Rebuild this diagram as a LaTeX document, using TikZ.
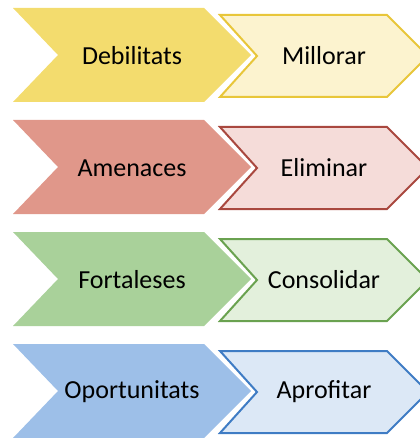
\documentclass[tikz,border=0pt]{standalone}
\usepackage{fontspec}
\setmainfont{Carlito}
\definecolor{grocA}{RGB}{243,220,110}
\definecolor{grocB}{RGB}{252,243,207}
\definecolor{grocL}{RGB}{232,198,58}
\definecolor{vermA}{RGB}{224,151,138}
\definecolor{vermB}{RGB}{245,220,217}
\definecolor{vermL}{RGB}{169,72,63}
\definecolor{verdA}{RGB}{169,209,154}
\definecolor{verdB}{RGB}{227,240,220}
\definecolor{verdL}{RGB}{106,162,80}
\definecolor{blauA}{RGB}{157,191,232}
\definecolor{blauB}{RGB}{220,232,246}
\definecolor{blauL}{RGB}{63,124,196}
\tikzset{every picture/.style={line width=0.75pt}}
\begin{document}
\begin{tikzpicture}[x=0.75pt,y=0.75pt,yscale=-1,xscale=1,
  fletxa/.style={draw=none},
  accio/.style={line width=1.5pt,line join=miter},
  txt/.style={inner sep=0.75pt,font=\fontsize{19.5}{23}\selectfont}]
\useasboundingbox (0,0) rectangle (420,438);
\clip (0,0) rectangle (420,438);

%Shape: Chevron [id:debilitats]
\draw [fletxa, fill=grocA] (13,8) -- (204,8) -- (251,55) -- (204,102) -- (13,102) -- (58,55) -- cycle ;
%Shape: Chevron [id:millorar]
\draw [accio, draw=grocL, fill=grocB] (220,15) -- (387,15) -- (428,56) -- (387,97) -- (220,97) -- (257,56) -- cycle ;

%Shape: Chevron [id:amenaces]
\draw [fletxa, fill=vermA] (13,120) -- (204,120) -- (251,167) -- (204,214) -- (13,214) -- (58,167) -- cycle ;
%Shape: Chevron [id:eliminar]
\draw [accio, draw=vermL, fill=vermB] (220,127) -- (387,127) -- (428,168) -- (387,209) -- (220,209) -- (257,168) -- cycle ;

%Shape: Chevron [id:fortaleses]
\draw [fletxa, fill=verdA] (13,232) -- (204,232) -- (251,279) -- (204,326) -- (13,326) -- (58,279) -- cycle ;
%Shape: Chevron [id:consolidar]
\draw [accio, draw=verdL, fill=verdB] (220,239) -- (387,239) -- (428,280) -- (387,321) -- (220,321) -- (257,280) -- cycle ;

%Shape: Chevron [id:oportunitats]
\draw [fletxa, fill=blauA] (13,344) -- (204,344) -- (251,391) -- (204,438) -- (13,438) -- (58,391) -- cycle ;
%Shape: Chevron [id:aprofitar]
\draw [accio, draw=blauL, fill=blauB] (220,351) -- (387,351) -- (428,392) -- (387,433) -- (220,433) -- (257,392) -- cycle ;

% Text Node
\draw (132,56) node (debil) [txt] {Debilitats};
% Text Node
\draw (324,56) node (millor) [txt] {Millorar};
% Text Node
\draw (132,168) node (amen) [txt] {Amenaces};
% Text Node
\draw (324,168) node (elim) [txt] {Eliminar};
% Text Node
\draw (132,280) node (fort) [txt] {Fortaleses};
% Text Node
\draw (324,280) node (consol) [txt] {Consolidar};
% Text Node
\draw (132,392) node (oport) [txt] {Oportunitats};
% Text Node
\draw (324,392) node (aprof) [txt] {Aprofitar};

\end{tikzpicture}
\end{document}
